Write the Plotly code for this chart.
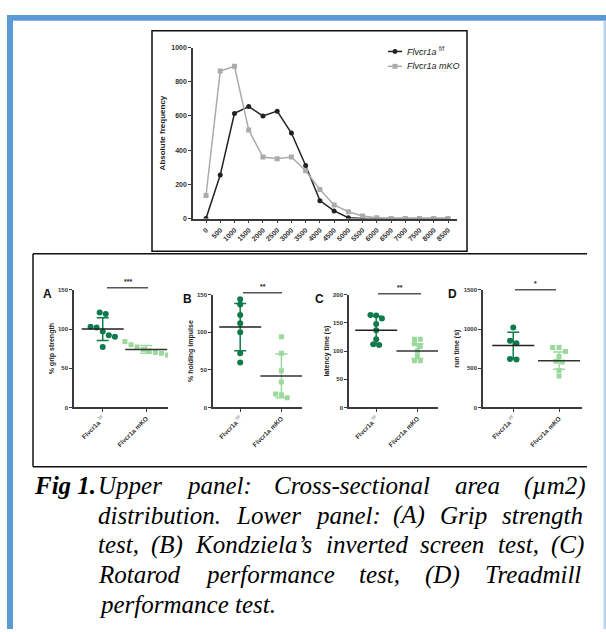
import numpy as np
import plotly.graph_objects as go

W, H = 606, 632

# ---------------- data ----------------
bins = [0, 500, 1000, 1500, 2000, 2500, 3000, 3500, 4000, 4500, 5000, 5500, 6000, 6500, 7000, 7500, 8000, 8500]
freq_ff = [0, 255, 615, 655, 600, 628, 500, 310, 105, 45, 5, 0, 0, 0, 0, 0, 0, 0]
freq_mko = [135, 862, 890, 518, 360, 350, 360, 280, 170, 80, 40, 15, 5, 0, 0, 0, 0, 0]

groups = ["Flvcr1a f/f", "Flvcr1a mKO"]
panel_letters = ["A", "B", "C", "D"]
panel_ytitles = ["% grip strength", "% holding impulse", "latency time (s)", "run time (s)"]
panel_yticks = [[0, 50, 100, 150], [0, 50, 100, 150], [0, 50, 100, 150, 200], [0, 500, 1000, 1500]]
panel_stars = ["***", "**", "**", "*"]

grip_ff = [121, 119, 103, 102, 97, 92, 90, 77]
grip_mko = [84, 80, 77, 74, 72, 70, 69, 67]
hold_ff = [144, 137, 123, 112, 100, 72, 60]
hold_mko = [94, 72, 49, 34, 18, 17, 13]
lat_ff = [164, 163, 158, 148, 137, 121, 112, 111]
lat_mko = [121, 121, 113, 108, 100, 91, 83, 83]
run_ff = [1021, 849, 819, 618, 612]
run_mko = [766, 764, 714, 650, 590, 580, 471, 400]

mean_ff = [100, 107, 137, 790]
sd_ff = [14.5, 31.5, 25, 168]
mean_mko = [74, 42, 100, 597]
sd_mko = [5, 29, 13, 110]

caption_lines = [
    "Upper panel: Cross-sectional area (µm2)",
    "distribution. Lower panel: (A) Grip strength",
    "test, (B) Kondziela’s inverted screen test, (C)",
    "Rotarod performance test, (D) Treadmill",
    "performance test.",
]

# ---------------- helpers ----------------
def px(p):
    return p / W

def py(p):
    return 1 - p / H

def swarm(vals, span, step=0.14):
    vals = np.asarray(vals, float)
    order = np.argsort(vals)[::-1]
    offs = np.zeros(len(vals))
    thr = span * 0.04
    grps = []
    cur = [order[0]]
    for i in order[1:]:
        if abs(vals[cur[-1]] - vals[i]) < thr:
            cur.append(i)
        else:
            grps.append(cur)
            cur = [i]
    grps.append(cur)
    for g in grps:
        n = len(g)
        for k, i in enumerate(g):
            offs[i] = (k - (n - 1) / 2) * step
    return offs

# Times-Italic advance widths (per 1000 em)
TI = {' ': 250, '(': 333, ')': 333, ',': 250, '.': 250, ':': 333, '-': 333, '’': 333,
      'A': 611, 'B': 611, 'C': 667, 'D': 722, 'F': 611, 'G': 722, 'K': 667, 'L': 556,
      'R': 611, 'T': 556, 'U': 722,
      'a': 500, 'b': 500, 'c': 444, 'd': 500, 'e': 444, 'f': 278, 'g': 500, 'h': 500,
      'i': 278, 'k': 444, 'l': 278, 'm': 722, 'n': 500, 'o': 500, 'p': 500, 'r': 389,
      's': 389, 't': 278, 'u': 500, 'v': 444, 'w': 667, 'z': 389, 'µ': 500, '2': 500, '1': 500}

def tw(word, size):
    return sum(TI.get(c, 500) for c in word) * size / 1000.0

SANS = "Liberation Sans"
SERIF = "Liberation Serif"
BLUE = "#5b9bd5"
DKG = "#0f7a4c"
LTG = "#9cd99c"
AX = "#3a3a3a"

fig = go.Figure()

# ---------------- upper panel ----------------
fig.add_trace(go.Scatter(
    x=bins, y=freq_ff, mode="lines+markers", showlegend=False,
    line=dict(color="#222222", width=1.5), marker=dict(symbol="circle", size=5, color="#222222"),
    xaxis="x", yaxis="y"))
fig.add_trace(go.Scatter(
    x=bins, y=freq_mko, mode="lines+markers", showlegend=False,
    line=dict(color="#ababab", width=1.5), marker=dict(symbol="square", size=5, color="#ababab"),
    xaxis="x", yaxis="y"))

u = (448 - 206) / 8500.0
fig.update_layout(
    xaxis=dict(domain=[px(193), px(457)], range=[(193 - 206) / u, 8500 + (457 - 448) / u],
               tickvals=bins, ticktext=[str(b) for b in bins], tickangle=-45,
               ticks="outside", ticklen=3, tickwidth=1, tickcolor=AX,
               showline=True, linecolor=AX, linewidth=1.5, showgrid=False, zeroline=False,
               tickfont=dict(family=SANS, size=7, color="#333", weight="bold"), anchor="y"),
    yaxis=dict(domain=[py(217), py(44)], range=[0, 1000], tickvals=[0, 200, 400, 600, 800, 1000],
               ticks="outside", ticklen=3, tickwidth=1, tickcolor=AX,
               showline=True, linecolor=AX, linewidth=1.5, showgrid=False, zeroline=False,
               tickfont=dict(family=SANS, size=7, color="#333", weight="bold"),
               title=dict(text="Absolute frequency", font=dict(family=SANS, size=8, color="#222", weight="bold"), standoff=4),
               anchor="x"),
)

# manual legend for the upper panel
leg = [("<i>Flvcr1a</i> <sup>f/f</sup>", "#222222", "circle", 48),
       ("<i>Flvcr1a mKO</i>", "#ababab", "square", 63)]
for txt, col, sym, yy in leg:
    fig.add_shape(type="line", xref="paper", yref="paper", x0=px(388), x1=px(402), y0=py(yy), y1=py(yy),
                  line=dict(color=col, width=1.5))
    if sym == "circle":
        fig.add_shape(type="circle", xref="paper", yref="paper", x0=px(392.5), x1=px(397.5),
                      y0=py(yy + 2.5), y1=py(yy - 2.5), fillcolor=col, line=dict(width=0))
    else:
        fig.add_shape(type="rect", xref="paper", yref="paper", x0=px(392.5), x1=px(397.5),
                      y0=py(yy + 2.5), y1=py(yy - 2.5), fillcolor=col, line=dict(width=0))
    fig.add_annotation(x=px(405), y=py(yy), xref="paper", yref="paper", text=txt, showarrow=False,
                       xanchor="left", yanchor="middle", font=dict(family=SANS, size=9, color="#222"))

# ---------------- lower panels ----------------
pan_x = [(74, 168), (213, 302), (349, 438), (483, 582)]
pan_y = [(289, 408), (294, 408), (294, 408), (289, 408)]
letter_x = [47, 187, 320, 452]
sig_px = [(107, 148, 287), (243, 282, 292), (378, 421, 293), (515, 556, 289)]
ff_sets = [grip_ff, hold_ff, lat_ff, run_ff]
mko_sets = [grip_mko, hold_mko, lat_mko, run_mko]
xr = [-0.66, 1.5]

tick_text = ["Flvcr1a <sup><span style='color:#9a9a9a'>f/f</span></sup>", "Flvcr1a mKO"]

for k in range(4):
    xa = "x%d" % (k + 2)
    ya = "y%d" % (k + 2)
    ymax = panel_yticks[k][-1]
    ffv = ff_sets[k]
    mkv = mko_sets[k]
    fig.add_trace(go.Scatter(
        x=0 + swarm(ffv, ymax), y=ffv, mode="markers", showlegend=False,
        marker=dict(symbol="circle", size=6, color=DKG), xaxis=xa, yaxis=ya))
    fig.add_trace(go.Scatter(
        x=1 + swarm(mkv, ymax), y=mkv, mode="markers", showlegend=False,
        marker=dict(symbol="square", size=5, color=LTG), xaxis=xa, yaxis=ya))
    fig.add_trace(go.Scatter(
        x=[0], y=[mean_ff[k]], mode="markers", showlegend=False,
        marker=dict(symbol="line-ew", size=30, line=dict(width=1.5, color="#222")),
        error_y=dict(type="data", array=[sd_ff[k]], color=DKG, thickness=1.5, width=6),
        xaxis=xa, yaxis=ya))
    fig.add_trace(go.Scatter(
        x=[1], y=[mean_mko[k]], mode="markers", showlegend=False,
        marker=dict(symbol="line-ew", size=30, line=dict(width=1.5, color="#333")),
        error_y=dict(type="data", array=[sd_mko[k]], color=LTG, thickness=1.5, width=6),
        xaxis=xa, yaxis=ya))

    fig.layout["xaxis%d" % (k + 2)] = dict(
        domain=[px(pan_x[k][0]), px(pan_x[k][1])], range=xr, anchor=ya,
        tickvals=[0, 1], ticktext=tick_text, tickangle=-45,
        ticks="outside", ticklen=3, tickcolor=AX, showline=True, linecolor=AX, linewidth=1.5,
        showgrid=False, zeroline=False,
        tickfont=dict(family=SANS, size=6.5, color="#333", weight="bold"))
    fig.layout["yaxis%d" % (k + 2)] = dict(
        domain=[py(pan_y[k][1]), py(pan_y[k][0])], range=[0, ymax], anchor=xa,
        tickvals=panel_yticks[k], ticks="outside", ticklen=3, tickcolor=AX,
        showline=True, linecolor=AX, linewidth=1.5, showgrid=False, zeroline=False,
        tickfont=dict(family=SANS, size=6, color="#333", weight="bold"),
        title=dict(text=panel_ytitles[k], font=dict(family=SANS, size=7, color="#222", weight="bold"), standoff=3))

    fig.add_annotation(x=px(letter_x[k]), y=py(pan_y[k][0] + 4), xref="paper", yref="paper",
                       text="<b>%s</b>" % panel_letters[k], showarrow=False,
                       font=dict(family=SANS, size=12, color="#111"), xanchor="center", yanchor="middle")
    x0, x1, ys = sig_px[k]
    fig.add_shape(type="line", xref="paper", yref="paper", x0=px(x0), x1=px(x1), y0=py(ys), y1=py(ys),
                  line=dict(color="#555", width=1.5))
    fig.add_annotation(x=px((x0 + x1) / 2), y=py(ys - 1), xref="paper", yref="paper",
                       text="<b>%s</b>" % panel_stars[k], showarrow=False,
                       font=dict(family=SANS, size=7, color="#222"), xanchor="center", yanchor="bottom")

# ---------------- frames ----------------
shapes = [
    dict(type="rect", xref="paper", yref="paper", x0=px(7), x1=px(606), y0=py(17), y1=py(11),
         fillcolor=BLUE, line=dict(width=0)),
    dict(type="rect", xref="paper", yref="paper", x0=px(7), x1=px(13), y0=py(632), y1=py(11),
         fillcolor=BLUE, line=dict(width=0)),
    dict(type="rect", xref="paper", yref="paper", x0=px(603.5), x1=px(606), y0=py(632), y1=py(17),
         fillcolor="#b9d3ec", line=dict(width=0)),
    dict(type="rect", xref="paper", yref="paper", x0=px(152), x1=px(467), y0=py(250), y1=py(27),
         line=dict(color="#111", width=1.5)),
    dict(type="line", xref="paper", yref="paper", x0=px(33), x1=px(587), y0=py(252.5), y1=py(252.5),
         line=dict(color="#111", width=1.5)),
    dict(type="line", xref="paper", yref="paper", x0=px(33), x1=px(33), y0=py(252.5), y1=py(468),
         line=dict(color="#111", width=1.5)),
    dict(type="line", xref="paper", yref="paper", x0=px(33), x1=px(587), y0=py(468), y1=py(468),
         line=dict(color="#111", width=1.5)),
]
for s in shapes:
    fig.add_shape(**s)

# ---------------- caption (justified) ----------------
CAP_SIZE = 25
CAP_L, CAP_R = 98, 584
cap_y = [487, 517, 547, 577, 607]
fig.add_annotation(x=px(33), y=py(cap_y[0]), xref="paper", yref="paper", text="<b><i>Fig 1.</i></b>",
                   showarrow=False, xanchor="left", yanchor="middle", borderpad=0,
                   font=dict(family=SERIF, size=CAP_SIZE, color="#000"))
for li, line in enumerate(caption_lines):
    last = li == len(caption_lines) - 1
    if last:
        fig.add_annotation(x=px(CAP_L), y=py(cap_y[li]), xref="paper", yref="paper",
                           text="<i>%s</i>" % line, showarrow=False, xanchor="left", yanchor="middle",
                           borderpad=0, font=dict(family=SERIF, size=CAP_SIZE, color="#000"))
        continue
    words = line.split(" ")
    widths = [tw(w, CAP_SIZE) for w in words]
    gap = (CAP_R - CAP_L - sum(widths)) / (len(words) - 1)
    xcur = CAP_L
    for w, wd in zip(words, widths):
        fig.add_annotation(x=px(xcur), y=py(cap_y[li]), xref="paper", yref="paper",
                           text="<i>%s</i>" % w, showarrow=False, xanchor="left", yanchor="middle",
                           borderpad=0, borderwidth=0,
                           font=dict(family=SERIF, size=CAP_SIZE, color="#000"))
        xcur += wd + gap

fig.update_layout(
    width=W, height=H, margin=dict(l=0, r=0, t=0, b=0),
    paper_bgcolor="white", plot_bgcolor="white",
    showlegend=False,
)

fig.write_html("out.html", config={"displayModeBar": False},
               post_script="document.body.style.margin='0px';document.body.style.padding='0px';")
